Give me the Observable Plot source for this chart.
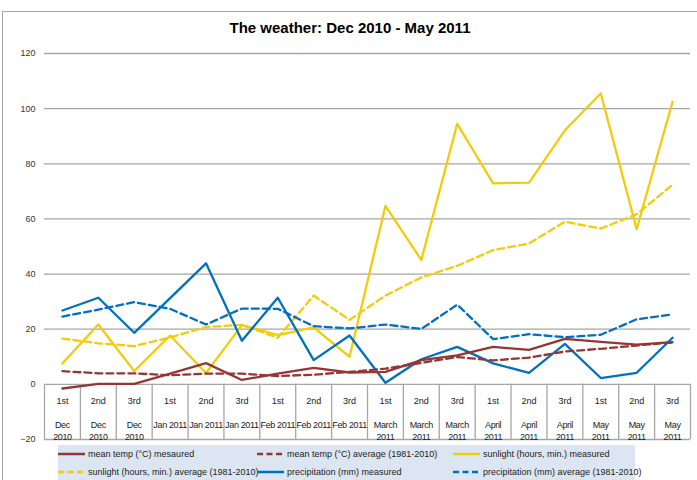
<!DOCTYPE html>
<html><head><meta charset="utf-8">
<script src="https://cdn.jsdelivr.net/npm/d3@7"></script>
<script src="https://cdn.jsdelivr.net/npm/@observablehq/plot@0.6"></script>
<style>
body{margin:0;background:#fff;font-family:"Liberation Sans",Arial,sans-serif;}
#wrap{position:relative;width:697px;height:480px;overflow:hidden;}
#frame{position:absolute;left:2px;top:11px;width:720px;height:500px;border:1px solid #a6a6a6;}
#title{position:absolute;top:19px;left:0;width:700px;text-align:center;font-weight:bold;font-size:15px;color:#000;}
#chart{position:absolute;left:0;top:45px;}
#chart g.months text{letter-spacing:-0.35px;}
#legend{position:absolute;left:58px;top:445px;width:577px;height:40px;background:#dce6f2;font-size:9px;color:#222;}
.item{position:absolute;display:flex;align-items:center;height:12px;white-space:nowrap;}
.item svg{margin-right:3px;}
</style>
</head><body>
<div id="wrap">
  <div id="frame"></div>
  <div id="title">The weather: Dec 2010 - May 2011</div>
  <div id="chart"></div>
  <div id="legend"></div>
</div>
<script>
const dekads = ["1st","2nd","3rd","1st","2nd","3rd","1st","2nd","3rd","1st","2nd","3rd","1st","2nd","3rd","1st","2nd","3rd"];
const months = ["Dec\n2010","Dec\n2010","Dec\n2010","Jan 2011","Jan 2011","Jan 2011","Feb 2011","Feb 2011","Feb 2011","March\n2011","March\n2011","March\n2011","April\n2011","April\n2011","April\n2011","May\n2011","May\n2011","May\n2011"];
const yTicks = [-20, 0, 20, 40, 60, 80, 100, 120];

const tempMeasured   = [-1.5, 0.2, 0.2, 3.9, 7.7, 1.6, 3.9, 6.0, 4.3, 4.5, 8.8, 10.5, 13.6, 12.5, 16.5, 15.4, 14.4, 15.3];
const tempAverage    = [4.8, 4.0, 4.0, 3.3, 3.9, 3.9, 3.0, 3.5, 4.5, 5.7, 7.8, 9.9, 8.7, 9.7, 11.9, 12.9, 14.1, 15.2];
const sunMeasured    = [7.6, 21.7, 4.8, 17.7, 4.1, 21.5, 17.9, 20.7, 10.0, 64.7, 45.1, 94.5, 72.9, 73.2, 92.1, 105.5, 56.3, 102.5];
const sunAverage     = [16.6, 14.9, 13.9, 17.0, 20.8, 21.6, 16.9, 32.2, 23.4, 32.2, 38.8, 43.0, 48.7, 51.1, 59.0, 56.5, 61.7, 72.4];
const precipMeasured = [26.8, 31.4, 18.7, 31.3, 43.9, 15.8, 31.4, 8.8, 17.7, 0.6, 9.1, 13.6, 7.6, 4.2, 14.7, 2.3, 4.2, 16.9];
const precipAverage  = [24.6, 27.1, 29.8, 27.4, 21.7, 27.5, 27.4, 21.1, 20.3, 21.7, 20.1, 28.9, 16.4, 18.2, 17.1, 18.0, 23.6, 25.4];

const RED = "#963634", YEL = "#f2cc0c", BLUE = "#0070c0", GRID = "#a6a6a6";
const DASH = "7,4";
const series = [
  {name: "mean temp (°C) mesaured", values: tempMeasured, color: RED, dash: null},
  {name: "mean temp (°C) average (1981-2010)", values: tempAverage, color: RED, dash: DASH},
  {name: "sunlight (hours, min.) measured", values: sunMeasured, color: YEL, dash: null},
  {name: "sunlight (hours, min.)  average (1981-2010)", values: sunAverage, color: YEL, dash: DASH},
  {name: "precipitation (mm)  measured", values: precipMeasured, color: BLUE, dash: null},
  {name: "precipitation (mm)  average (1981-2010)", values: precipAverage, color: BLUE, dash: DASH}
];
const idx = d3.range(dekads.length);
const bounds = d3.range(dekads.length + 1);

const lineMarks = [0,1,2,3,4,5].map(k => {
  const s = series[k];
  return Plot.line(idx, {x: i => i + 0.5, y: i => s.values[i], stroke: s.color, strokeWidth: 2.3,
    strokeDasharray: s.dash || undefined, curve: "linear"});
});
const order = [3, 2, 5, 4, 1, 0];

const chart = Plot.plot({
  width: 697, height: 400,
  marginLeft: 44, marginRight: 7, marginTop: 8, marginBottom: 6,
  x: {type: "linear", domain: [0, dekads.length], axis: null},
  y: {domain: [-20, 120], axis: null},
  style: {fontFamily: "Liberation Sans, Arial, sans-serif", background: "transparent", overflow: "visible"},
  marks: [
    Plot.ruleY(yTicks, {stroke: GRID, strokeWidth: 1.3}),
    Plot.ruleX(bounds, {y1: 0, y2: -20, stroke: GRID, strokeWidth: 1.3}),
    Plot.axisY(yTicks, {tickSize: 0, tickPadding: 9, fontSize: 9, fill: "#333", label: null}),
    Plot.text(idx, {x: i => i + 0.5, y: -6.2, text: i => dekads[i], fontSize: 9, fill: "#222"}),
    Plot.text(idx, {x: i => i + 0.5, y: -12.7, text: i => months[i], fontSize: 9, fill: "#222", lineAnchor: "top", lineHeight: 1.33, className: "months"}),
    ...order.map(k => lineMarks[k])
  ]
});
document.getElementById("chart").appendChild(chart);

const legend = document.getElementById("legend");
const cols = [0, 199, 395], rows = [3, 21];
series.forEach((s, k) => {
  const it = document.createElement("div");
  it.className = "item";
  it.style.left = cols[k % 3] + "px";
  it.style.top = rows[Math.floor(k / 3)] + "px";
  it.innerHTML = `<svg width="27" height="6"><line x1="0" y1="3" x2="27" y2="3" stroke="${s.color}" stroke-width="2.5" ${s.dash ? 'stroke-dasharray="6,3.5"' : ''}/></svg><span>${s.name}</span>`;
  legend.appendChild(it);
});
</script>
</body></html>
